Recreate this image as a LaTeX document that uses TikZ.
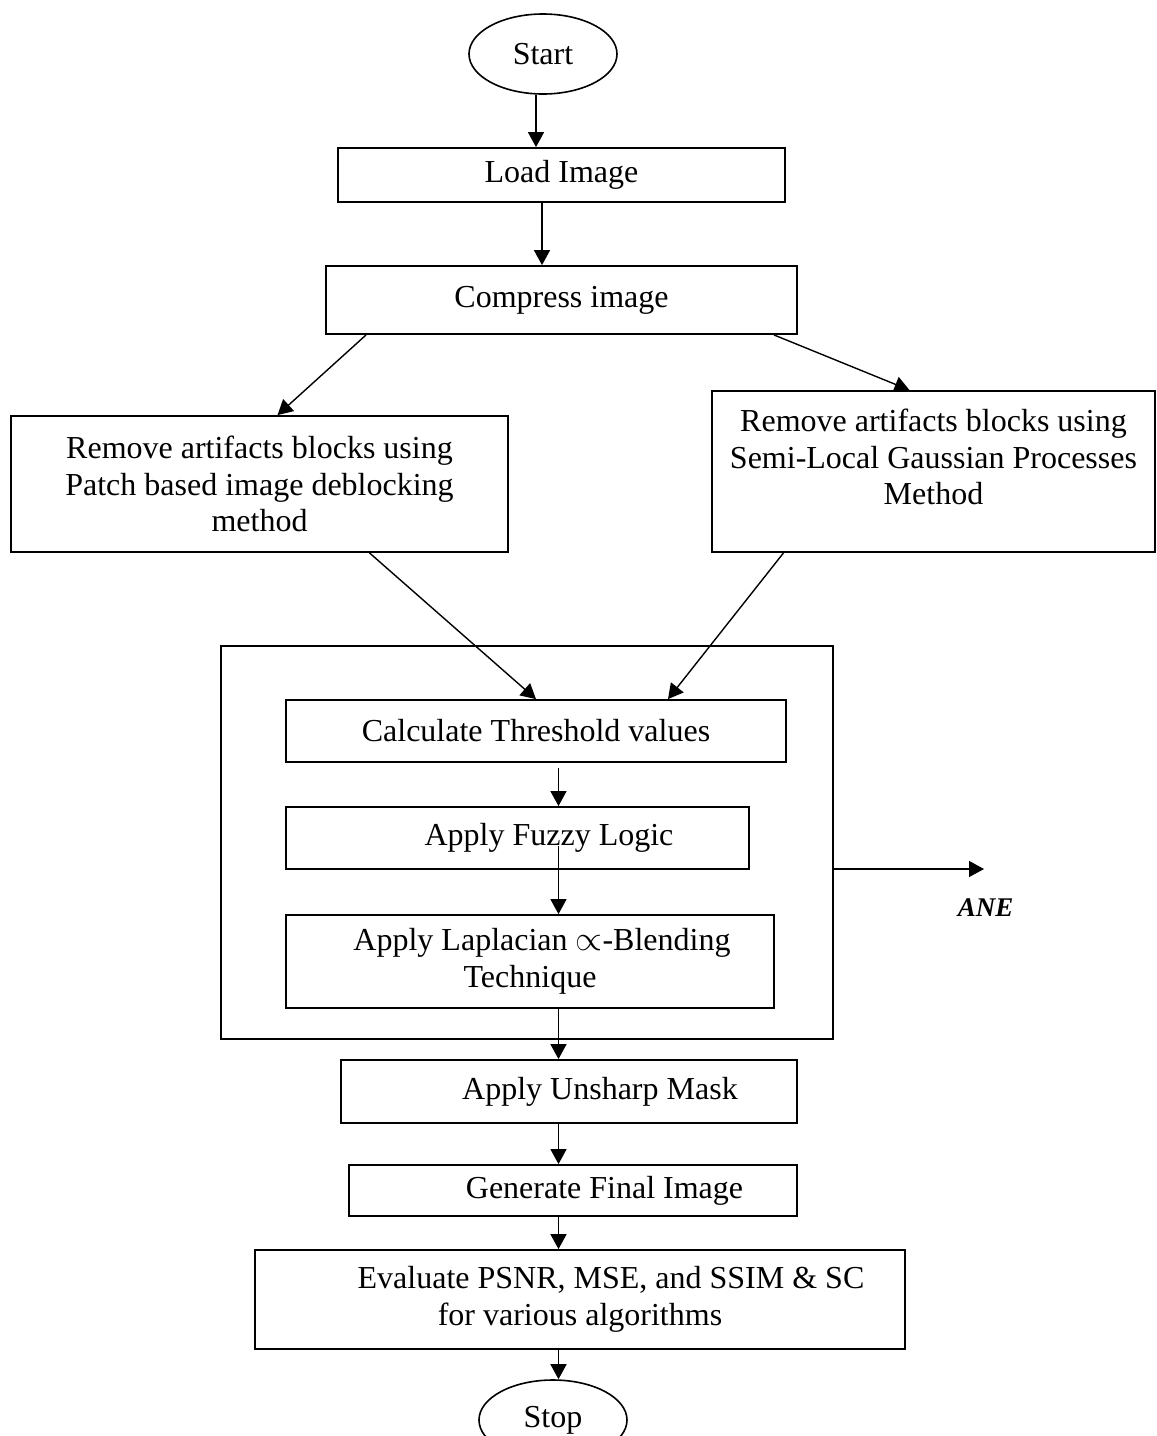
\documentclass[tikz,border=0pt]{standalone}
\usepackage{fontspec}
\setmainfont{Liberation Serif}
\usetikzlibrary{shapes.geometric, arrows.meta}
\tikzstyle{block} = [rectangle, draw, line width=0.9pt, align=center, inner sep=0pt, font=\fontsize{16}{18.3}\selectfont]
\tikzstyle{terminal} = [ellipse, draw, line width=0.8pt, inner sep=0pt, minimum width=74pt, minimum height=40pt, font=\fontsize{16}{18.3}\selectfont]
\tikzstyle{arrow} = [line width=0.7pt,->,>={Triangle[length=7.5pt,width=8pt]}]

\begin{document}
\begin{tikzpicture}[x=0.5pt, y=-0.5pt]
        \useasboundingbox (0,0) rectangle (1157,1436);
        % Node positions
        \node[terminal] (start) at (543,54) {Start};
        \node[block, minimum width=223.5pt, minimum height=27pt] (load) at (561.5,175) {Load Image};
        \node[block, minimum width=235.5pt, minimum height=34pt] (compress) at (561.5,300) {Compress image};
        \node[block, minimum width=248.5pt, minimum height=68pt] (patch) at (259.5,484) {Remove artifacts blocks using\\Patch based image deblocking\\method};
        \node[block, minimum width=221.5pt, minimum height=80.5pt] (gauss) at (933.5,471.5) {Remove artifacts blocks using\\Semi-Local Gaussian Processes\\Method\\[-3.8pt]};
        \node[block, minimum width=306pt, minimum height=196.5pt] (container) at (527,842.5) {};
        \node[block, minimum width=250pt, minimum height=31pt] (thresh) at (536,731) {Calculate Threshold values};
        \node[block, minimum width=231.5pt, minimum height=31pt] (fuzzy) at (517.5,838) {\hspace*{31.5pt}Apply Fuzzy Logic};
        \node[block, minimum width=244pt, minimum height=46.5pt] (laplace) at (530,961.5) {\hspace*{12pt}Apply Laplacian $\propto$-Blending\\Technique};
        \node[block, minimum width=228pt, minimum height=31.5pt] (unsharp) at (569,1091.5) {\hspace*{31pt}Apply Unsharp Mask};
        \node[block, minimum width=224pt, minimum height=25.5pt] (final) at (573,1190.5) {\hspace*{31.5pt}Generate Final Image};
        \node[block, minimum width=325pt, minimum height=49.5pt] (evaluate) at (580,1299.5) {\hspace*{31pt}Evaluate PSNR, MSE, and SSIM \& SC\\for various algorithms};
        \node[terminal] (stop) at (553,1420) {Stop};
        \node[font=\fontsize{13.5}{16}\selectfont\bfseries\itshape] (ane) at (985.5,908) {ANE};
        \coordinate (aneend) at (984,869);
        \coordinate (spine) at (558.5,0);

        \draw[arrow] ([xshift=-3.5pt]start.south) -- ([xshift=-3.5pt]start.south |- load.north);
        \draw[arrow] ([xshift=-9.75pt]load.south) -- ([xshift=-9.75pt]load.south |- compress.north);
        \draw[arrow] ([xshift=20.5pt]compress.south west) -- ([xshift=9pt]patch.north);
        \draw[arrow] ([xshift=-12pt]compress.south east) -- ([xshift=-12pt]gauss.north);
        \draw[arrow] ([xshift=55pt]patch.south) -- (thresh.north);
        \draw[arrow] ([xshift=-75pt]gauss.south) -- ([xshift=66pt]thresh.north);
        \draw[arrow] ([yshift=-2.5pt]thresh.south -| spine) -- (fuzzy.north -| spine);
        \draw[arrow] ([yshift=-4pt]fuzzy.center -| spine) -- (laplace.north -| spine);
        \draw[arrow] (laplace.south -| spine) -- (unsharp.north -| spine);
        \draw[arrow] (unsharp.south -| spine) -- (final.north -| spine);
        \draw[arrow] (final.south -| spine) -- (evaluate.north -| spine);
        \draw[arrow] (evaluate.south -| spine) -- (stop.north -| spine);
        \draw[arrow] ([yshift=-13.25pt]container.east) -- (aneend);
\end{tikzpicture}
\end{document}
